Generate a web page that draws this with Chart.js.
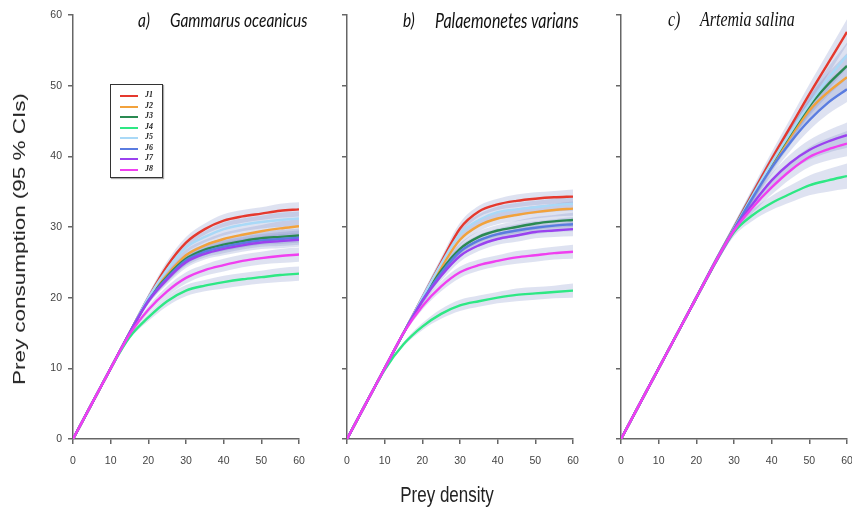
<!DOCTYPE html>
<html>
<head>
<meta charset="utf-8">
<script src="https://cdn.jsdelivr.net/npm/chart.js@4.4.0/dist/chart.umd.min.js"></script>
<style>
html,body{margin:0;padding:0;background:#fff;}
body{position:relative;width:852px;height:516px;overflow:hidden;}
.pane{position:absolute;top:0;height:516px;}
.ptitle{position:absolute;top:8px;font-style:italic;color:#111;white-space:pre;transform:scaleY(1.28);transform-origin:left top;font-family:Lato,'Open Sans',sans-serif;font-size:15.5px;}
.serif{font-family:'Liberation Serif',serif;font-size:16px;}
#ytitle{position:absolute;left:20px;top:239px;font-family:'Liberation Sans',Arial,sans-serif;font-size:17px;color:#222;white-space:nowrap;transform:translate(-50%,-50%) rotate(-90deg) scaleX(1.32);}
#xtitle{position:absolute;left:447px;top:495px;font-family:'Liberation Sans',Arial,sans-serif;font-size:17px;color:#222;white-space:nowrap;transform:translate(-50%,-50%) scaleY(1.32);}
#legend{position:absolute;left:110px;top:84px;width:51px;height:92px;border:1.5px solid #333;box-shadow:1px 1px 1px #aaa;background:#fff;}
.lrow{position:absolute;left:0;height:10px;width:51px;}
.lline{position:absolute;left:9px;top:4px;width:18px;height:2.2px;}
.llab{position:absolute;left:34px;top:-1px;font:italic bold 8px 'Liberation Serif',serif;color:#222;}
</style>
</head>
<body>
<div class="pane" style="left:0;width:310px"><canvas id="ca"></canvas></div>
<div class="pane" style="left:300px;width:290px"><canvas id="cb"></canvas></div>
<div class="pane" style="left:590px;width:272px"><canvas id="cc"></canvas></div>
<div class="ptitle" style="left:138px">a)</div>
<div class="ptitle" style="left:170px">Gammarus oceanicus</div>
<div class="ptitle" style="left:403px">b)</div>
<div class="ptitle" style="left:435px;font-size:16px">Palaemonetes varians</div>
<div class="ptitle serif" style="left:668px">c)</div>
<div class="ptitle serif" style="left:700px">Artemia salina</div>
<div id="ytitle">Prey consumption (95 % CIs)</div>
<div id="xtitle">Prey density</div>
<div id="legend"></div>
<script>
// ---- data ----
const densities = [0,5,10,15,20,25,30,35,40,45,50,55,60];
const seriesNames = ['J1','J2','J3','J4','J5','J6','J7','J8'];
const seriesColors = ['#e5392e','#f2a23c','#2a8a52','#2ee884','#a9d9f7','#5a7ce0','#9b42ef','#f03ff0'];
const xTicks = [0,10,20,30,40,50,60];
const yTicks = [0,10,20,30,40,50,60];

// a) Gammarus oceanicus
const gamJ1 = [0,5,10,15,20,24.5,27.8,29.7,30.9,31.5,31.9,32.3,32.5];
const gamJ2 = [0,5,10,15,19.8,23.2,26.0,27.4,28.3,28.9,29.4,29.8,30.1];
const gamJ3 = [0,5,10,15,19.7,23.0,25.5,26.8,27.5,28.0,28.4,28.6,28.8];
const gamJ4 = [0,5,10,14.4,17.2,19.5,21.0,21.7,22.2,22.6,22.9,23.2,23.4];
const gamJ5 = [0,5,10,15,20,24.0,27.1,28.6,29.7,30.3,30.7,31.0,31.2];
const gamJ6 = [0,5,10,15,19.6,22.8,25.3,26.5,27.2,27.7,28.1,28.3,28.5];
const gamJ7 = [0,5,10,15,19.5,22.6,25.0,26.2,26.9,27.4,27.8,28.0,28.2];
const gamJ8 = [0,5,10,14.8,18.3,20.9,22.8,23.9,24.6,25.2,25.6,25.9,26.1];
const gamCI = [0,0.1,0.2,0.3,0.5,0.7,0.8,0.8,0.9,0.9,0.9,1.0,1.0];

// b) Palaemonetes varians
const palJ1 = [0,5,10,15,20,25,29.8,32.2,33.2,33.7,34.0,34.2,34.3];
const palJ2 = [0,5,10,15,19.9,24.3,28.2,30.2,31.2,31.7,32.1,32.4,32.6];
const palJ3 = [0,5,10,15,19.7,23.8,26.9,28.6,29.5,30.0,30.5,30.8,31.0];
const palJ4 = [0,5,9.8,13.4,15.9,17.7,18.9,19.5,20.0,20.4,20.6,20.8,21.0];
const palJ5 = [0,5,10,15,20,24.8,29.0,31.0,32.1,32.5,32.8,33.1,33.3];
const palJ6 = [0,5,10,15,19.6,23.5,26.5,28.1,29.0,29.5,29.9,30.2,30.4];
const palJ7 = [0,5,10,15,19.5,23.1,25.9,27.4,28.3,28.8,29.3,29.5,29.7];
const palJ8 = [0,5,10,15,18.8,21.6,23.6,24.6,25.2,25.7,26.0,26.3,26.5];
const palCI = [0,0.1,0.2,0.3,0.5,0.7,0.8,0.8,0.8,0.9,0.9,0.9,1.0];

// c) Artemia salina
const artJ1 = [0,5,10,15,20,25,29.9,34.8,39.6,44.2,48.8,53.2,57.6];
const artJ2 = [0,5,10,15,20,25,29.8,34.4,38.8,42.8,46.5,49.1,51.2];
const artJ3 = [0,5,10,15,20,25,29.8,34.5,39.0,43.2,47.1,50.2,52.8];
const artJ4 = [0,5,10,15,20,25,29.3,31.7,33.4,34.7,35.9,36.6,37.2];
const artJ5 = [0,5,10,15,20,25,29.8,34.5,39.1,43.4,47.4,51.0,54.3];
const artJ6 = [0,5,10,15,20,25,29.7,34.2,38.4,42.0,45.1,47.6,49.5];
const artJ7 = [0,5,10,15,20,25,29.6,33.3,36.6,39.1,40.9,42.1,43.0];
const artJ8 = [0,5,10,15,20,25,29.5,32.8,35.6,38.0,39.9,41.0,41.8];
const artCI = [0,0.1,0.2,0.3,0.4,0.5,0.6,0.8,1.0,1.2,1.4,1.6,1.8];

// ---- build ----
const tickFont = {family:"'Liberation Sans Narrow','Liberation Sans',Arial,sans-serif", size:10.5};
const axisColor = '#666';
const bandColor = 'rgba(115,135,195,0.24)';

function pts(arr){ return densities.map((x,j)=>({x:x, y:arr[j]})); }

function makeChart(id, series, ci, showY, pad){
  const datasets = [];
  series.forEach((arr)=>{
    datasets.push({data:pts(arr.map((v,j)=>v+ci[j])), borderColor:'rgba(0,0,0,0)', borderWidth:0,
      pointRadius:0, fill:'+1', backgroundColor:bandColor, order:100, cubicInterpolationMode:'monotone'});
    datasets.push({data:pts(arr.map((v,j)=>v-ci[j])), borderColor:'rgba(0,0,0,0)', borderWidth:0,
      pointRadius:0, fill:false, order:100, cubicInterpolationMode:'monotone'});
  });
  series.forEach((arr,i)=>{
    datasets.push({label:seriesNames[i], data:pts(arr), borderColor:seriesColors[i], borderWidth:2.4,
      pointRadius:0, fill:false, order:8-i, cubicInterpolationMode:'monotone'});
  });
  return new Chart(document.getElementById(id), {
    type:'line',
    data:{datasets:datasets},
    options:{
      responsive:true, maintainAspectRatio:false, animation:false,
      layout:{padding:pad},
      plugins:{legend:{display:false}, tooltip:{enabled:false}},
      scales:{
        x:{type:'linear', min:0, max:60,
          afterBuildTicks:s=>{s.ticks = xTicks.map(v=>({value:v}));},
          afterFit:s=>{s.height=30; s.paddingRight=0; s.paddingLeft=0;},
          ticks:{autoSkip:false, maxRotation:0, font:tickFont, color:'#444', padding:11},
          grid:{display:true, drawOnChartArea:false, drawTicks:true, tickLength:5, color:axisColor, lineWidth:1.5},
          border:{display:true, color:axisColor, width:1.5}},
        y:{type:'linear', min:0, max:60,
          afterBuildTicks:s=>{s.ticks = yTicks.map(v=>({value:v}));},
          afterFit:s=>{s.width = showY?40:10; s.paddingTop=0; s.paddingBottom=0;},
          ticks:{display:showY, font:tickFont, color:'#444', padding:6},
          grid:{display:true, drawOnChartArea:false, drawTicks:true, tickLength:5, color:axisColor, lineWidth:1.5},
          border:{display:true, color:axisColor, width:1.5}}
      }
    }
  });
}

makeChart('ca',[gamJ1,gamJ2,gamJ3,gamJ4,gamJ5,gamJ6,gamJ7,gamJ8], gamCI, true, {left:33,right:11,top:15,bottom:47});
makeChart('cb',[palJ1,palJ2,palJ3,palJ4,palJ5,palJ6,palJ7,palJ8], palCI, false, {left:37,right:17,top:15,bottom:47});
makeChart('cc',[artJ1,artJ2,artJ3,artJ4,artJ5,artJ6,artJ7,artJ8], artCI, false, {left:21,right:15,top:15,bottom:47});

// legend
const lg = document.getElementById('legend');
seriesNames.forEach((n,i)=>{
  const r = document.createElement('div');
  r.className='lrow'; r.style.top = (6 + i*10.5)+'px';
  const l = document.createElement('div'); l.className='lline'; l.style.background = seriesColors[i];
  const t = document.createElement('div'); t.className='llab'; t.textContent = n;
  r.appendChild(l); r.appendChild(t); lg.appendChild(r);
});
</script>
</body>
</html>
